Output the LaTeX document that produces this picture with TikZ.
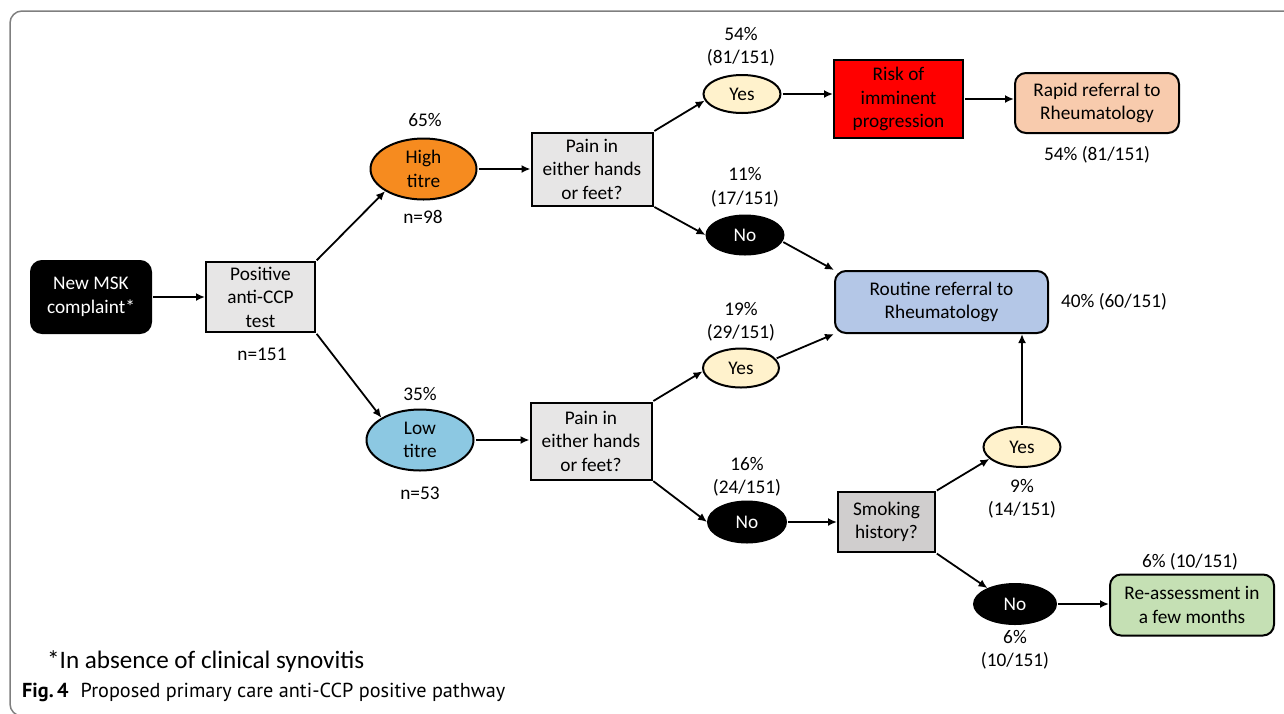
\documentclass[tikz,border=0pt]{standalone}
\usepackage{fontspec}
\usepackage{graphicx}
\setmainfont{Carlito}
\newfontfamily\capfont{PT Sans}
\usetikzlibrary{shapes.geometric,arrows.meta}
\definecolor{orangeT}{HTML}{F68B1F}
\definecolor{blueT}{HTML}{8CC8E2}
\definecolor{yesC}{HTML}{FFF2CC}
\definecolor{grayA}{HTML}{E7E6E6}
\definecolor{grayB}{HTML}{D0CECE}
\definecolor{routC}{HTML}{B4C7E7}
\definecolor{rapidC}{HTML}{F8CBAD}
\definecolor{reassC}{HTML}{C5E0B4}
\definecolor{frameC}{HTML}{7F7F7F}
\newcommand\dfont{\fontsize{19.3}{23.5}\selectfont}
\tikzset{
  base/.style={draw=black, line width=2pt, inner sep=0pt, align=center, font=\dfont},
  rectbox/.style={base, rectangle},
  roundbox/.style={base, rectangle, rounded corners=11pt},
  oval/.style={base, ellipse},
  lbl/.style={inner sep=0pt, align=center, font=\dfont},
  arr/.style={line width=1.8pt, -{Latex[length=9pt,width=8pt]}, shorten <=1pt}
}
\begin{document}
\begin{tikzpicture}[x=1pt,y=-1pt]
\useasboundingbox (0,0) rectangle (1284,713);
\begin{scope}
\clip (0,0) rectangle (1284,713);
\draw[frameC, line width=1.5pt, rounded corners=12pt] (10,11) rectangle (1330,716);
\end{scope}

% nodes
\node[roundbox, fill=black, text=white, minimum width=120pt, minimum height=72pt] (msk) at (91,297) {New MSK\\complaint*};
\node[rectbox, fill=grayA, minimum width=109pt, minimum height=70pt] (pos) at (260.5,297) {Positive\\anti-CCP\\test};
\node[oval, fill=orangeT, minimum width=106pt, minimum height=61pt] (high) at (423.5,169) {High\\titre};
\node[oval, fill=blueT, minimum width=107pt, minimum height=61pt] (low) at (420,440) {Low\\titre};
\node[rectbox, fill=grayA, minimum width=121pt, minimum height=73pt] (paintop) at (592,169) {Pain in\\either hands\\or feet?};
\node[rectbox, fill=grayA, minimum width=121pt, minimum height=77pt] (painbot) at (591,441) {Pain in\\either hands\\or feet?};
\node[oval, fill=yesC, minimum width=77pt, minimum height=38pt] (yes1) at (742,94) {Yes};
\node[oval, fill=black, text=white, minimum width=77pt, minimum height=39pt] (no1) at (745,235) {No};
\node[oval, fill=yesC, minimum width=76pt, minimum height=39pt] (yes2) at (741,368) {Yes};
\node[oval, fill=black, text=white, minimum width=78pt, minimum height=41pt] (no2) at (747,522) {No};
\node[rectbox, fill=red, minimum width=129pt, minimum height=78pt] (risk) at (898.5,99) {Risk of\\imminent\\progression};
\node[roundbox, fill=rapidC, minimum width=164pt, minimum height=60pt] (rapid) at (1097,103) {Rapid referral to\\Rheumatology};
\node[roundbox, fill=routC, minimum width=213pt, minimum height=62pt] (routine) at (941.5,302) {Routine referral to\\Rheumatology};
\node[rectbox, fill=grayB, minimum width=97pt, minimum height=60pt] (smoke) at (886.5,522) {Smoking\\history?};
\node[oval, fill=yesC, minimum width=77pt, minimum height=40pt] (yes3) at (1022,447) {Yes};
\node[oval, fill=black, text=white, minimum width=82pt, minimum height=40pt] (no3) at (1015,604) {No};
\node[roundbox, fill=reassC, minimum width=164pt, minimum height=61pt] (reass) at (1192,605) {Re-assessment in\\a few months};

% labels
\node[lbl] (n151) at (262,354) {n=151};
\node[lbl] (p65) at (425,120) {65\%};
\node[lbl] (n98) at (423,217) {n=98};
\node[lbl] (p35) at (420,394) {35\%};
\node[lbl] (n53) at (420,493) {n=53};
\node[lbl] (l1) at (741,47) {54\%\\(81/151)};
\node[lbl] (l2) at (745,187) {11\%\\(17/151)};
\node[lbl] (l3) at (741,321.5) {19\%\\(29/151)};
\node[lbl] (l4) at (747,476.5) {16\%\\(24/151)};
\node[lbl] (l5) at (1022,498.5) {9\%\\(14/151)};
\node[lbl] (l6) at (1015,649.5) {6\%\\(10/151)};
\node[lbl] (l7) at (1097,155) {54\% (81/151)};
\node[lbl] (l8) at (1114,302) {40\% (60/151)};
\node[lbl] (l9) at (1190,562) {6\% (10/151)};

\node[inner sep=0pt, anchor=west] (foot) at (47,662) {\resizebox{317pt}{!}{\fontsize{24}{28}\selectfont *In absence of clinical synovitis}};
\node[inner sep=0pt, anchor=west] (cap) at (22,692) {\resizebox{483pt}{!}{\capfont\fontsize{18}{22}\selectfont\textbf{Fig.\,4}\hspace{0.6em}Proposed primary care anti-CCP positive pathway}};

% connectors
\draw[arr] (msk.east) -- (pos.west);
\draw[arr] (pos.north east) -- (high.210);
\draw[arr] (pos.south east) -- (low.150);
\draw[arr] (high.east) -- (high.east -| paintop.west);
\draw[arr] (low.east) -- (low.east -| painbot.west);
\draw[arr] (paintop.north east) -- (yes1.190);
\draw[arr] (paintop.south east) -- (no1.west);
\draw[arr] (painbot.north east) -- (yes2.185);
\draw[arr] (painbot.south east) -- (no2.west);
\draw[arr] (yes1.east) -- (yes1.east -| risk.west);
\draw[arr] (risk.east) -- (risk.east -| rapid.west);
\draw[arr] (no1.-10) -- (routine.north west);
\draw[arr] (yes2.15) -- (routine.south west);
\draw[arr] (no2.east) -- (no2.east -| smoke.west);
\draw[arr] (smoke.north east) -- (yes3.200);
\draw[arr] (smoke.south east) -- (no3.150);
\draw[arr] (yes3.north) -- (yes3.north |- routine.south);
\draw[arr] (no3.east) -- (no3.east -| reass.west);
\end{tikzpicture}
\end{document}
